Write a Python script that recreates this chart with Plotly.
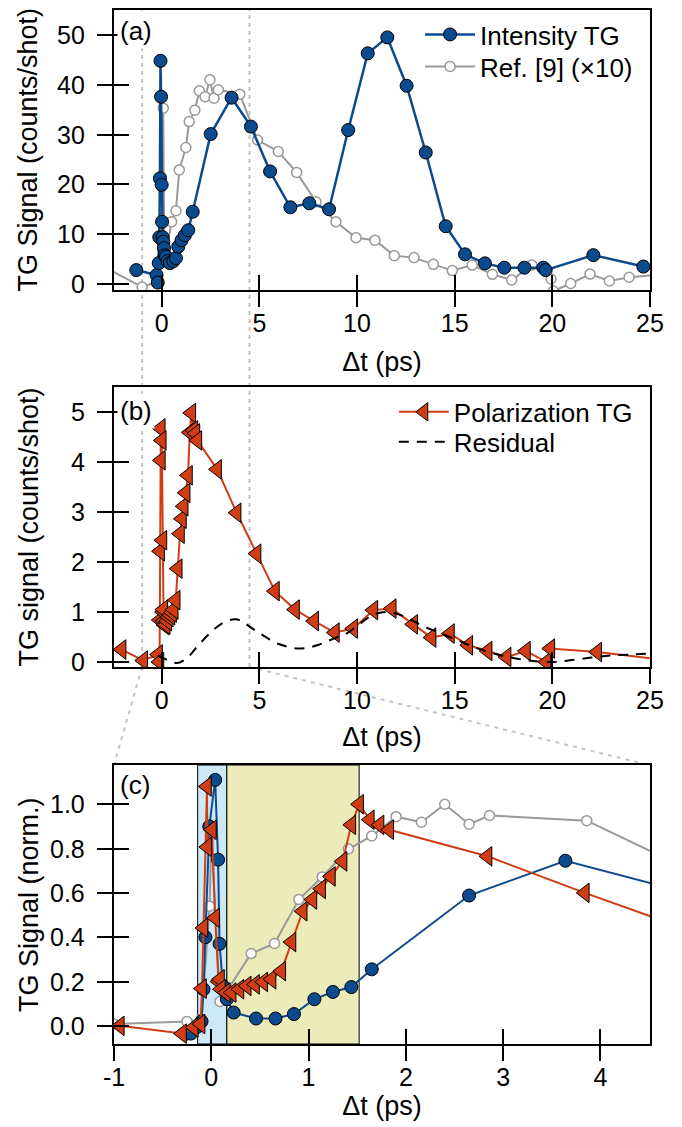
import plotly.graph_objects as go

# ---------------- Panel (a): Intensity TG and Ref. [9] (x10) ----------------
int_t = [-1.3, -0.26, -0.2, -0.15, -0.12, -0.09, -0.06, -0.03, 0.0, 0.02, 0.05, 0.08,
         0.12, 0.16, 0.22, 0.3, 0.42, 0.6, 0.73, 0.85, 1.02, 1.19, 1.36, 1.59,
         2.51, 3.58, 4.57, 5.55, 6.59, 7.56, 8.57, 9.55, 10.55, 11.55, 12.54, 13.52,
         14.54, 15.53, 16.55, 17.54, 18.57, 19.54, 19.66, 22.1, 24.66]
int_v = [2.8, 1.8, 0.3, 4.2, 9.4, 21.2, 44.8, 37.6, 19.9, 12.5, 9.4, 8.5,
         7.2, 5.8, 5.5, 4.6, 4.2, 4.6, 5.2, 7.5, 8.8, 9.8, 10.8, 14.5,
         30.1, 37.4, 31.6, 22.6, 15.4, 16.2, 15.0, 30.9, 46.3, 49.5, 39.8, 26.4,
         11.6, 5.96, 4.15, 3.28, 3.28, 3.28, 2.8, 5.8, 3.5]

ref_t = [-3.2, -1.0, -0.2, -0.02, 0.08, 0.14, 0.51, 0.73, 0.9, 1.24, 1.41, 1.7, 1.93,
         2.22, 2.47, 2.68, 2.9, 4.0, 4.91, 5.97, 6.91, 7.9, 8.92, 9.95, 10.92,
         11.91, 12.92, 13.91, 14.88, 15.9, 16.93, 17.92, 18.95, 19.93, 20.05,
         20.94, 21.93, 22.92, 23.93, 25.5]
ref_v = [4.0, -0.6, 0.5, 21.5, 35.3, 4.5, 12.5, 14.7, 22.9, 27.4, 32.6, 34.9, 38.8,
         37.6, 41.0, 37.3, 39.0, 38.1, 28.9, 26.6, 22.4, 16.5, 12.5, 9.3, 8.8,
         5.7, 5.3, 3.95, 2.7, 3.8, 1.95, 0.8, 3.8, 1.0, -1.4,
         0.1, 2.0, 0.6, 1.35, 1.9]

# ---------------- Panel (b): Polarization TG and residual ----------------
pol_t = [-2.05, -0.94, -0.18, -0.11, -0.095, -0.08, -0.044, -0.04, 0.007, 0.04,
         0.075, 0.09, 0.1, 0.15, 0.21, 0.29, 0.365, 0.45, 0.535, 0.62, 0.72, 0.825,
         0.94, 1.04, 1.13, 1.23, 1.35, 1.44, 1.52, 1.63, 1.73, 1.83, 2.84, 3.84,
         4.86, 5.8, 6.83, 7.81, 8.87, 9.81, 10.84, 11.78, 12.88, 13.82, 14.76,
         15.7, 16.69, 17.66, 18.65, 19.7, 19.9, 22.3, 25.5]
pol_v = [0.25, 0.03, 0.15, 0.0, 0.84, 2.22, 4.68, 4.04, 4.44, 2.44,
         1.0, 1.05, 0.82, 0.74, 0.75, 0.82, 0.9, 0.94, 0.99, 1.05, 1.24, 1.87,
         2.57, 2.87, 3.12, 3.39, 3.74, 4.6, 4.99, 4.64, 4.58, 4.44, 3.86, 2.99,
         2.17, 1.42, 1.05, 0.82, 0.59, 0.67, 1.04, 1.07, 0.755, 0.49, 0.57,
         0.335, 0.22, 0.1, 0.22, 0.0, 0.27, 0.2, 0.05]

res_t = [-0.2, 0.3, 0.8, 1.3, 1.8, 2.4, 3.0, 3.6, 4.0, 4.5, 5.0, 5.5, 6.0, 6.5,
         7.0, 7.5, 8.0, 8.5, 9.0, 9.5, 10.0, 10.5, 11.0, 11.5, 12.0, 12.5, 13.0,
         13.5, 14.0, 15.0, 16.0, 17.0, 18.0, 19.0, 20.0, 21.0, 22.0, 23.0, 24.0, 25.0]
res_v = [0.13, 0.04, -0.02, 0.08, 0.3, 0.55, 0.75, 0.85, 0.84, 0.71, 0.58, 0.46,
         0.36, 0.3, 0.27, 0.29, 0.34, 0.42, 0.5, 0.58, 0.72, 0.87, 0.97, 1.0, 0.97,
         0.9, 0.8, 0.7, 0.62, 0.46, 0.3, 0.17, 0.08, 0.02, 0.0, 0.04, 0.09, 0.13,
         0.15, 0.17]

# ---------------- Panel (c): normalized close-up ----------------
c_int_t = [-0.27, -0.21, -0.15, -0.1, -0.08, -0.06, -0.02, 0.04, 0.07, 0.085, 0.12,
           0.16, 0.23, 0.46, 0.66, 0.85, 1.06, 1.25, 1.44, 1.65, 2.65, 3.64, 4.64]
c_int_v = [-0.037, -0.035, -0.006, 0.02, 0.165, 0.4, 0.9, 1.11, 0.75, 0.37, 0.18,
           0.12, 0.06, 0.033, 0.033, 0.053, 0.12, 0.153, 0.175, 0.255, 0.588, 0.745, 0.63]

c_ref_t = [-1.0, -0.25, -0.1, -0.017, 0.0, 0.09, 0.41, 0.65, 0.9, 1.14, 1.41, 1.65,
           1.9, 2.16, 2.4, 2.65, 2.86, 3.86, 4.91]
c_ref_v = [0.008, 0.02, 0.03, 0.54, 0.86, 0.11, 0.326, 0.372, 0.57, 0.672, 0.798, 0.857,
           0.944, 0.919, 1.0, 0.91, 0.949, 0.926, 0.705]

c_pol_t = [-2.05, -0.94, -0.3, -0.18, -0.11, -0.095, -0.08, -0.044, -0.04, 0.007, 0.04,
           0.075, 0.09, 0.1, 0.15, 0.21, 0.29, 0.365, 0.45, 0.535, 0.62, 0.72, 0.825,
           0.94, 1.04, 1.13, 1.23, 1.35, 1.44, 1.52, 1.63, 1.73, 1.83, 2.84, 3.84, 4.86]
c_pol_v = [0.05, 0.0, -0.035, -0.007, 0.008, 0.168, 0.442, 1.08, 0.807, 0.885, 0.487,
           0.2, 0.21, 0.165, 0.15, 0.15, 0.165, 0.18, 0.187, 0.198, 0.21, 0.247, 0.378,
           0.517, 0.57, 0.618, 0.674, 0.742, 0.907, 1.0, 0.93, 0.907, 0.885, 0.765, 0.6, 0.44]

band_blue = [-0.14, 0.16]
band_yellow = [0.16, 1.52]
zoom_window = [-1.0, 4.5]

# ---------------- axis settings ----------------
xab_range = [-2.44, 25.0]
ya_range = [-1.2, 55.0]
yb_range = [-0.1, 5.51]
xc_range = [-1.0, 4.51]
yc_range = [-0.082, 1.177]
xab_ticks = [0, 5, 10, 15, 20, 25]
ya_ticks = [0, 10, 20, 30, 40, 50]
ya_ticktext = ["0", "10", "20", "30", "40", "50"]
yb_ticks = [0, 1, 2, 3, 4, 5]
yb_ticktext = ["0", "1", "2", "3", "4", "5"]
xc_ticks = [-1, 0, 1, 2, 3, 4]
xc_ticktext = ["-1", "0", "1", "2", "3", "4"]
yc_ticks = [0.0, 0.2, 0.4, 0.6, 0.8, 1.0]
yc_ticktext = ["0.0", "0.2", "0.4", "0.6", "0.8", "1.0"]

ytitles = ["TG Signal (counts/shot)", "TG signal (counts/shot)", "TG Signal (norm.)"]

dom_a = [0.7292, 1.0]
dom_b = [0.3646, 0.6354]
dom_c = [0.0, 0.2698]

# page geometry (pixels) of the plotting area
PX_LEFT, PX_WIDTH, PX_BOTTOM, PX_HEIGHT = 114, 536, 1044, 1034

BLUE = "#0b4a8c"
RED = "#d03d14"
GREY = "#999999"
FONT = "Liberation Sans, Arial, Helvetica, sans-serif"
FS = 25     # tick labels
TFS = 27    # axis titles
LFS = 26    # legend
TRI = 17    # triangle marker size

fig = go.Figure()

# panel a
fig.add_trace(go.Scatter(x=ref_t, y=ref_v, mode="lines+markers", name="Ref. [9] (×10)",
                         line=dict(color=GREY, width=2),
                         marker=dict(symbol="circle", size=10, color="white",
                                     line=dict(color=GREY, width=1.5)),
                         xaxis="x", yaxis="y", legend="legend3"))
fig.add_trace(go.Scatter(x=int_t, y=int_v, mode="lines+markers", name="Intensity TG",
                         line=dict(color=BLUE, width=2.5),
                         marker=dict(symbol="circle", size=13, color=BLUE,
                                     line=dict(color="black", width=1)),
                         xaxis="x", yaxis="y", legend="legend"))
# panel b
fig.add_trace(go.Scatter(x=pol_t, y=pol_v, mode="lines+markers", name="Polarization TG",
                         line=dict(color=RED, width=2),
                         marker=dict(symbol="triangle-left", size=TRI, color=RED,
                                     line=dict(color="black", width=1)),
                         xaxis="x2", yaxis="y2", legend="legend2"))
fig.add_trace(go.Scatter(x=res_t, y=res_v, mode="lines", name="Residual",
                         line=dict(color="black", width=2, dash="10px,8px", shape="spline"),
                         xaxis="x2", yaxis="y2", legend="legend4"))
# panel c
fig.add_trace(go.Scatter(x=c_ref_t, y=c_ref_v, mode="lines+markers", showlegend=False,
                         line=dict(color=GREY, width=2),
                         marker=dict(symbol="circle", size=10, color="white",
                                     line=dict(color=GREY, width=1.5)),
                         xaxis="x3", yaxis="y3"))
fig.add_trace(go.Scatter(x=c_int_t, y=c_int_v, mode="lines+markers", showlegend=False,
                         line=dict(color=BLUE, width=2),
                         marker=dict(symbol="circle", size=13, color=BLUE,
                                     line=dict(color="black", width=1)),
                         xaxis="x3", yaxis="y3"))
fig.add_trace(go.Scatter(x=c_pol_t, y=c_pol_v, mode="lines+markers", showlegend=False,
                         line=dict(color=RED, width=2),
                         marker=dict(symbol="triangle-left", size=TRI, color=RED,
                                     line=dict(color="black", width=1)),
                         xaxis="x3", yaxis="y3"))
# dummy traces for the inner tick overlays
for xa, ya in (("x4", "y4"), ("x5", "y5"), ("x6", "y6")):
    fig.add_trace(go.Scatter(x=[None], y=[None], xaxis=xa, yaxis=ya, showlegend=False,
                             hoverinfo="skip", mode="markers"))

common = dict(showline=True, linecolor="black", linewidth=2, mirror=True,
              ticks="outside", ticklen=15, tickwidth=2, tickcolor="black",
              showgrid=False, zeroline=False, automargin=False,
              tickfont=dict(family=FONT, size=FS, color="black"),
              title_font=dict(family=FONT, size=TFS, color="black"))
xcommon = dict(common, ticklabelstandoff=-5)
ycommon = dict(common, showticklabels=False)
inner = dict(showline=False, ticks="inside", ticklen=15, tickwidth=2, tickcolor="black",
             showgrid=False, zeroline=False, showticklabels=False, automargin=False)

leg = dict(xanchor="left", yanchor="top", bgcolor="rgba(0,0,0,0)",
           font=dict(family=FONT, size=LFS, color="black"), itemwidth=50)

fig.update_layout(
    xaxis=dict(xcommon, domain=[0, 1], anchor="y", range=xab_range, tickvals=xab_ticks,
               title=dict(text="Δt (ps)", standoff=16)),
    yaxis=dict(ycommon, domain=dom_a, anchor="x", range=ya_range, tickvals=ya_ticks),
    xaxis2=dict(xcommon, domain=[0, 1], anchor="y2", range=xab_range, tickvals=xab_ticks,
                title=dict(text="Δt (ps)", standoff=14)),
    yaxis2=dict(ycommon, domain=dom_b, anchor="x2", range=yb_range, tickvals=yb_ticks),
    xaxis3=dict(xcommon, domain=[0, 1], anchor="y3", range=xc_range, tickvals=xc_ticks,
                ticktext=xc_ticktext, title=dict(text="Δt (ps)", standoff=4)),
    yaxis3=dict(ycommon, domain=dom_c, anchor="x3", range=yc_range, tickvals=yc_ticks),
    xaxis4=dict(inner, overlaying="x", anchor="y", range=xab_range, tickvals=xab_ticks),
    yaxis4=dict(inner, overlaying="y", anchor="x", range=ya_range, tickvals=ya_ticks),
    xaxis5=dict(inner, overlaying="x2", anchor="y2", range=xab_range, tickvals=xab_ticks),
    yaxis5=dict(inner, overlaying="y2", anchor="x2", range=yb_range, tickvals=yb_ticks),
    xaxis6=dict(inner, overlaying="x3", anchor="y3", range=xc_range, tickvals=xc_ticks),
    yaxis6=dict(inner, overlaying="y3", anchor="x3", range=yc_range, tickvals=yc_ticks),
    width=682, height=1127,
    margin=dict(l=106, r=40, t=2, b=91),
    paper_bgcolor="white", plot_bgcolor="rgba(0,0,0,0)",
    font=dict(family=FONT, size=FS, color="black"),
    legend=dict(leg, x=0.571, y=0.999),
    legend3=dict(leg, x=0.571, y=0.968),
    legend2=dict(leg, x=0.522, y=0.634),
    legend4=dict(leg, x=0.522, y=0.605),
    showlegend=True,
)

# y tick labels placed through each y axis (right edge 28 px left of the axis line)
label_x = (86 - PX_LEFT) / PX_WIDTH
for yref, vals, texts in (("y", ya_ticks, ya_ticktext), ("y2", yb_ticks, yb_ticktext),
                          ("y3", yc_ticks, yc_ticktext)):
    for v, t in zip(vals, texts):
        fig.add_annotation(text=t, xref="paper", yref=yref, x=label_x, y=v,
                           xanchor="right", yanchor="middle", showarrow=False,
                           font=dict(family=FONT, size=FS, color="black"), borderpad=0)

# y axis titles, centred on each panel
title_x = (28.5 - PX_LEFT) / PX_WIDTH
for t, dom in zip(ytitles, (dom_a, dom_b, dom_c)):
    fig.add_annotation(text=t, xref="paper", yref="paper", x=title_x, y=sum(dom) / 2,
                       xanchor="center", yanchor="middle", textangle=-90, showarrow=False,
                       font=dict(family=FONT, size=TFS, color="black"))

# shaded bands in panel c
for (b0, b1), col in ((band_blue, "#cde9f8"), (band_yellow, "#ecebba")):
    fig.add_shape(type="rect", xref="x3", yref="y3 domain", x0=b0, x1=b1, y0=0, y1=1,
                  fillcolor=col, line=dict(color="black", width=1), layer="below")

# guide lines linking the zoom window
GUIDE = "#c4c4c4"
for xv in zoom_window:
    fig.add_shape(type="line", xref="x", yref="paper", x0=xv, x1=xv, y0=dom_b[0], y1=dom_a[1],
                  line=dict(color=GUIDE, width=2, dash="4px,4px"), layer="below")
fa = [(v - xab_range[0]) / (xab_range[1] - xab_range[0]) for v in zoom_window]
fc = [(v - xc_range[0]) / (xc_range[1] - xc_range[0]) for v in zoom_window]
for f0, f1 in zip(fa, fc):
    fig.add_shape(type="line", xref="paper", yref="paper", x0=f0, x1=f1,
                  y0=dom_b[0], y1=dom_c[1],
                  line=dict(color=GUIDE, width=2, dash="4px,5px"), layer="below")

# panel labels
for lab, yv in (("(a)", 0.9797), ("(b)", 0.6122), ("(c)", 0.2505)):
    fig.add_annotation(text=lab, xref="paper", yref="paper", x=0.006, y=yv,
                       xanchor="left", yanchor="middle", showarrow=False,
                       font=dict(family=FONT, size=26, color="black"),
                       bgcolor="white", borderpad=2)

fig.write_html("out.html")
